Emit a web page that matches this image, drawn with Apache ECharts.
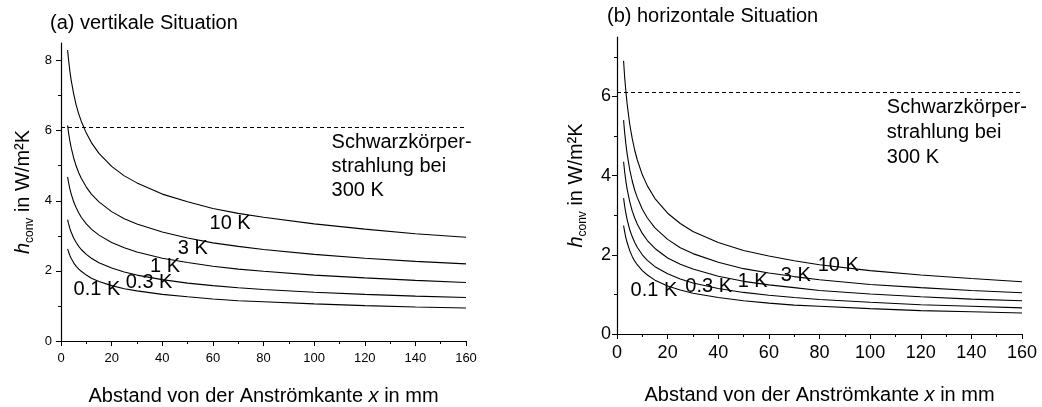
<!DOCTYPE html>
<html>
<head>
<meta charset="utf-8">
<script src="https://cdn.jsdelivr.net/npm/echarts@6/dist/echarts.min.js"></script>
<style>html,body{margin:0;padding:0;background:#fff}#c{width:1042px;height:407px}</style>
</head>
<body>
<div id="c"></div>
<script>
// x positions (mm)
const xs = [2.6, 3, 3.5, 4, 5, 6, 7, 8, 10, 12, 15, 20, 25, 30, 40, 50, 60, 70, 80, 100, 120, 140, 160];
const seriesNames = ['10 K', '3 K', '1 K', '0.3 K', '0.1 K'];

// (a) vertikale Situation
const vert10 = [8.30, 8.01, 7.70, 7.45, 7.05, 6.73, 6.48, 6.27, 5.93, 5.66, 5.35, 4.98, 4.71, 4.51, 4.19, 3.97, 3.78, 3.64, 3.53, 3.34, 3.19, 3.06, 2.96];
const vert3  = [6.15, 5.93, 5.71, 5.52, 5.22, 4.99, 4.80, 4.64, 4.39, 4.19, 3.97, 3.69, 3.49, 3.34, 3.11, 2.94, 2.80, 2.70, 2.61, 2.47, 2.36, 2.27, 2.20];
const vert1  = [4.68, 4.52, 4.34, 4.20, 3.97, 3.80, 3.66, 3.53, 3.34, 3.19, 3.02, 2.81, 2.66, 2.54, 2.36, 2.24, 2.13, 2.05, 1.99, 1.88, 1.80, 1.73, 1.67];
const vert03 = [3.46, 3.34, 3.21, 3.11, 2.94, 2.81, 2.70, 2.61, 2.47, 2.36, 2.23, 2.08, 1.97, 1.88, 1.75, 1.65, 1.58, 1.52, 1.47, 1.39, 1.33, 1.28, 1.24];
const vert01 = [2.63, 2.54, 2.44, 2.36, 2.23, 2.13, 2.05, 1.99, 1.88, 1.79, 1.70, 1.58, 1.49, 1.43, 1.33, 1.26, 1.20, 1.15, 1.12, 1.06, 1.01, 0.97, 0.94];

// (b) horizontale Situation
const hor10 = [6.90, 6.51, 6.13, 5.81, 5.31, 4.94, 4.64, 4.40, 4.02, 3.74, 3.42, 3.05, 2.79, 2.59, 2.31, 2.11, 1.97, 1.85, 1.75, 1.60, 1.49, 1.40, 1.32];
const hor3  = [5.40, 5.10, 4.80, 4.55, 4.16, 3.87, 3.63, 3.45, 3.15, 2.93, 2.68, 2.39, 2.18, 2.03, 1.81, 1.65, 1.54, 1.45, 1.37, 1.25, 1.17, 1.10, 1.04];
const hor1  = [4.35, 4.11, 3.86, 3.66, 3.35, 3.11, 2.93, 2.78, 2.54, 2.36, 2.16, 1.92, 1.76, 1.64, 1.46, 1.33, 1.24, 1.17, 1.10, 1.01, 0.94, 0.88, 0.84];
const hor03 = [3.43, 3.24, 3.05, 2.89, 2.64, 2.46, 2.31, 2.19, 2.00, 1.86, 1.70, 1.52, 1.39, 1.29, 1.15, 1.05, 0.98, 0.92, 0.87, 0.80, 0.74, 0.70, 0.66];
const hor01 = [2.74, 2.59, 2.43, 2.31, 2.11, 1.96, 1.84, 1.75, 1.60, 1.49, 1.36, 1.21, 1.11, 1.03, 0.92, 0.84, 0.78, 0.73, 0.70, 0.64, 0.59, 0.56, 0.53];

const blackBody = 6.1;
const blackBodyText = 'Schwarzkörper-\nstrahlung bei\n300 K';

// label anchor positions (data coords)
const vertLabelPos = [[66.8, 3.35], [52.1, 2.63], [41.1, 2.12], [34.8, 1.66], [14.2, 1.46]];
const horLabelPos  = [[87.4, 1.74], [70.6, 1.49], [53.6, 1.32], [36.2, 1.21], [14.6, 1.11]];
const vertTextPos = [106.9, 4.97];
const horTextPos  = [106.6, 5.09];

const xTicks = [0, 20, 40, 60, 80, 100, 120, 140, 160];
const vertYTicks = [0, 2, 4, 6, 8];
const vertYMinor = [1, 3, 5, 7];
const horYTicks = [0, 2, 4, 6];
const horYMinor = [1, 3, 5, 7];

const FONT = 'Liberation Sans, Arial, sans-serif';
const vertData = [vert10, vert3, vert1, vert03, vert01];
const horData = [hor10, hor3, hor1, hor03, hor01];

const chart = echarts.init(document.getElementById('c'), null, {renderer: 'canvas'});

function xAxisDef(gridIndex, fs, margin, gap) {
  return {
    type: 'value', gridIndex, min: 0, max: 160, interval: 20,
    axisLine: {show: true, lineStyle: {color: '#000', width: 1.2}},
    axisTick: {show: true, length: 5, lineStyle: {color: '#000', width: 1}},
    minorTick: {show: true, splitNumber: 2, length: 3, lineStyle: {color: '#000', width: 1}},
    splitLine: {show: false}, minorSplitLine: {show: false},
    axisLabel: {color: '#000', fontSize: fs, fontFamily: FONT, margin, customValues: xTicks},
    name: '{n|Abstand von der Anströmkante }{i|x}{n| in mm}',
    nameLocation: 'middle', nameGap: gap,
    nameTextStyle: {color: '#000', fontFamily: FONT, fontSize: 20,
      rich: {n: {fontSize: 20, fontFamily: FONT, color: '#000'},
             i: {fontSize: 20, fontFamily: FONT, color: '#000', fontStyle: 'italic'}}}
  };
}
function yAxisMain(gridIndex, max, ticks, fs, gap, margin) {
  return {
    type: 'value', gridIndex, min: 0, max, interval: 2,
    axisLine: {show: true, lineStyle: {color: '#000', width: 1.2}},
    axisTick: {show: true, length: 5, lineStyle: {color: '#000', width: 1}, customValues: ticks},
    minorTick: {show: false},
    splitLine: {show: false},
    axisLabel: {color: '#000', fontSize: fs, fontFamily: FONT, margin, customValues: ticks},
    name: '{i|h}{s|conv}{n| in W/m²K}',
    nameLocation: 'middle', nameGap: gap, nameRotate: 90,
    nameTextStyle: {color: '#000', fontFamily: FONT, fontSize: 20,
      rich: {i: {fontSize: 20, fontStyle: 'italic', fontFamily: FONT, color: '#000', lineHeight: 26, verticalAlign: 'middle'},
             s: {fontSize: 12, fontFamily: FONT, color: '#000', lineHeight: 26, verticalAlign: 'bottom'},
             n: {fontSize: 20, fontFamily: FONT, color: '#000', lineHeight: 26, verticalAlign: 'middle'}}}
  };
}
function yAxisMinor(gridIndex, max, ticks) {
  return {
    type: 'value', gridIndex, min: 0, max, position: 'left',
    axisLine: {show: false},
    axisTick: {show: true, length: 3, lineStyle: {color: '#000', width: 1}, customValues: ticks},
    axisLabel: {show: false},
    splitLine: {show: false}
  };
}

const series = [];
[[vertData, 0, 0], [horData, 1, 2]].forEach(([dataSet, xi, yi]) => {
  dataSet.forEach((arr, k) => {
    series.push({
      type: 'line', xAxisIndex: xi, yAxisIndex: yi, name: seriesNames[k],
      data: xs.map((x, i) => [x, arr[i]]),
      smooth: false, symbol: 'none', silent: true,
      lineStyle: {color: '#000', width: 1.1},
      markLine: k === 0 ? {
        silent: true, symbol: 'none', label: {show: false},
        lineStyle: {color: '#000', type: [4, 3], width: 1},
        data: [[{coord: [0, blackBody]}, {coord: [160, blackBody]}]]
      } : undefined
    });
  });
});

function labelSeries(xi, yi, pos, textPos, lh) {
  series.push({
    type: 'scatter', xAxisIndex: xi, yAxisIndex: yi, symbolSize: 0, silent: true,
    itemStyle: {opacity: 1, color: '#000'},
    data: pos.map((p, k) => ({value: p, name: seriesNames[k]})),
    label: {show: true, position: 'inside', formatter: p => p.name, color: '#000', opacity: 1,
      textBorderWidth: 0, fontSize: 20, fontFamily: FONT}
  });
  series.push({
    type: 'scatter', xAxisIndex: xi, yAxisIndex: yi, symbolSize: 0, silent: true,
    itemStyle: {opacity: 1, color: '#000'},
    data: [{value: textPos, name: blackBodyText}],
    label: {show: true, position: 'right', distance: 0, formatter: p => p.name, color: '#000', opacity: 1,
      textBorderWidth: 0, fontSize: 20, fontFamily: FONT, lineHeight: lh, align: 'left'}
  });
}
labelSeries(0, 0, vertLabelPos, vertTextPos, 24);
labelSeries(1, 2, horLabelPos, horTextPos, 25);

chart.setOption({
  animation: false,
  backgroundColor: '#fff',
  title: [
    {text: '(a) vertikale Situation', left: 50, top: 13, padding: 0,
     textStyle: {fontSize: 20, fontWeight: 'normal', color: '#000', fontFamily: FONT}},
    {text: '(b) horizontale Situation', left: 607, top: 6, padding: 0,
     textStyle: {fontSize: 20, fontWeight: 'normal', color: '#000', fontFamily: FONT}}
  ],
  grid: [
    {left: 61, top: 43, width: 405, height: 298, containLabel: false, outerBoundsMode: 'none'},
    {left: 617, top: 37, width: 405, height: 297, containLabel: false, outerBoundsMode: 'none'}
  ],
  xAxis: [xAxisDef(0, 13, 11, 45), xAxisDef(1, 18, 10, 51)],
  yAxis: [
    yAxisMain(0, 8.5, vertYTicks, 13, 25, 9),
    yAxisMinor(0, 8.5, vertYMinor),
    yAxisMain(1, 7.5, horYTicks, 18, 28, 6),
    yAxisMinor(1, 7.5, horYMinor)
  ],
  series
});
</script>
</body>
</html>
